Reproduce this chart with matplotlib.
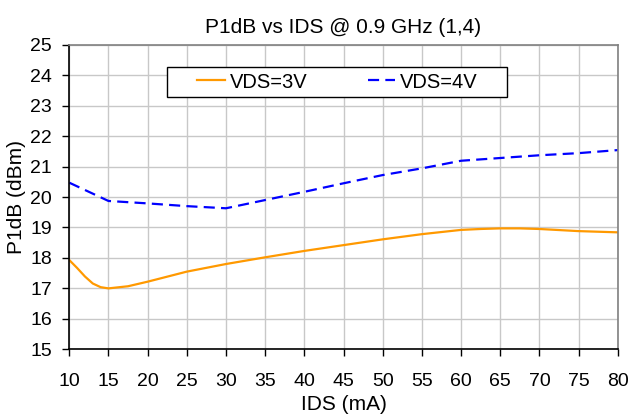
import matplotlib.pyplot as plt
from matplotlib.patches import Rectangle

# 数据
ids_3v = [10, 11, 12, 13, 14, 15, 17.5, 20, 25, 30, 35, 40, 45, 50, 55, 60, 62.5, 65, 67.5, 70, 75, 80]
p1db_3v = [17.93, 17.67, 17.39, 17.16, 17.04, 17.00, 17.07, 17.22, 17.55, 17.80, 18.02, 18.23,
           18.42, 18.61, 18.78, 18.92, 18.95, 18.97, 18.97, 18.95, 18.88, 18.84]

ids_4v = [10, 15, 20, 25, 30, 35, 40, 45, 50, 55, 60, 65, 70, 75, 80]
p1db_4v = [20.47, 19.87, 19.79, 19.70, 19.63, 19.90, 20.17, 20.45, 20.72, 20.94, 21.19,
           21.28, 21.37, 21.44, 21.54]

x_ticks = list(range(10, 81, 5))
y_ticks = list(range(15, 26))

plt.rcParams['font.family'] = ['Liberation Sans', 'DejaVu Sans']

fig = plt.figure(figsize=(6.31, 4.15), dpi=100)
ax = fig.add_axes([0.1098, 0.1583, 0.8692, 0.734])

ax.plot(ids_3v, p1db_3v, color='#FF9900', lw=1.6, label='VDS=3V')
ax.plot(ids_4v, p1db_4v, color='#0000FF', lw=1.6, ls=(0, (5, 2.8)), label='VDS=4V')

ax.set_xlim(10, 80)
ax.set_ylim(15, 25)
ax.set_xticks(x_ticks)
ax.set_yticks(y_ticks)
ax.grid(True, color='#C8C8C8', lw=1)
ax.set_axisbelow(True)

# 坐标轴样式
for side in ['left', 'bottom']:
    ax.spines[side].set_color('black')
    ax.spines[side].set_linewidth(1.2)
for side in ['top', 'right']:
    ax.spines[side].set_color('#808080')
    ax.spines[side].set_linewidth(1.2)
ax.tick_params(direction='out', length=4.8, width=1, labelsize=14, colors='black')
ax.tick_params(axis='x', pad=12)
ax.tick_params(axis='y', pad=7.5)

ax.set_title('P1dB vs IDS @ 0.9 GHz (1,4)', fontsize=15, pad=8.7)
ax.set_xlabel('IDS (mA)', fontsize=15, labelpad=4)
ax.set_ylabel('P1dB (dBm)', fontsize=15, labelpad=3)

# 图例: 文字无边框, 外框单独画
leg = ax.legend(loc='center', bbox_to_anchor=(0.489, 0.8775), ncol=2, fontsize=14.5,
                frameon=False, handlelength=1.35, columnspacing=3.0, handletextpad=0.25,
                borderpad=0.2)
box = Rectangle((0.1776, 0.8293), 0.62, 0.0965, transform=ax.transAxes,
                facecolor='white', edgecolor='black', lw=1, zorder=4)
ax.add_patch(box)
leg.set_zorder(5)

plt.savefig('out.png', dpi=100)
